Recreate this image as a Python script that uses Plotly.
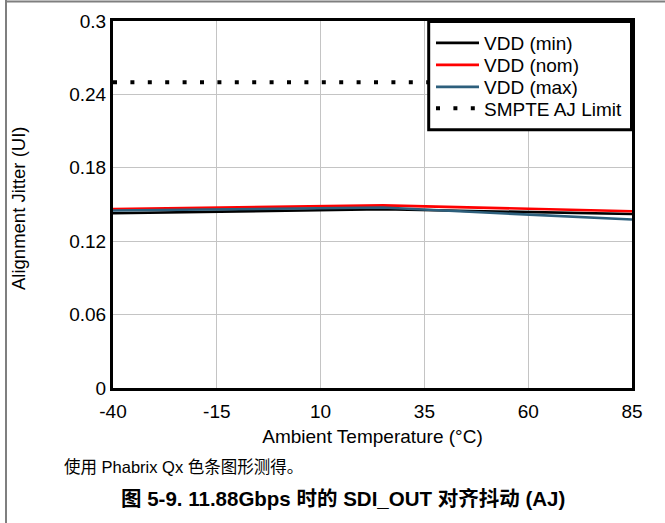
import plotly.graph_objects as go

# ---- data ----
temps = [-40, 25, 85]
vdd_min = [0.1428, 0.1461, 0.1422]
vdd_nom = [0.1462, 0.1493, 0.1445]
vdd_max = [0.1451, 0.1475, 0.1377]
smpte_x = [-40, 85]
smpte_limit = [0.25, 0.25]

x_ticks = [-40, -15, 10, 35, 60, 85]
y_ticks = [0, 0.06, 0.12, 0.18, 0.24, 0.3]
y_ticktext = ["0", "0.06", "0.12", "0.18", "0.24", "0.3"]

series_names = ["VDD (min)", "VDD (nom)", "VDD (max)", "SMPTE AJ Limit"]

x_title = "Ambient Temperature (°C)"
y_title = "Alignment Jitter (UI)"
caption = "使用 Phabrix Qx 色条图形测得。"
title = "图 5-9. 11.88Gbps 时的 SDI_OUT 对齐抖动 (AJ)"

FONT = "Liberation Sans, Arial, Noto Sans CJK SC"
FS = 19
W, H = 665, 523
L, R, T, B = 113, 33, 21, 135
PW, PH = W - L - R, H - T - B


def px_x(px):
    return (px - L) / PW


def px_y(py):
    return (H - B - py) / PH


fig = go.Figure()
fig.add_trace(go.Scatter(x=temps, y=vdd_min, mode="lines", name=series_names[0],
                         legend="legend",
                         line=dict(color="#000000", width=2.6)))
fig.add_trace(go.Scatter(x=temps, y=vdd_nom, mode="lines", name=series_names[1],
                         legend="legend2",
                         line=dict(color="#ff0000", width=2.6)))
fig.add_trace(go.Scatter(x=temps, y=vdd_max, mode="lines", name=series_names[2],
                         legend="legend3",
                         line=dict(color="#2d5f7c", width=2.6)))
fig.add_trace(go.Scatter(x=smpte_x, y=smpte_limit, mode="lines", name=series_names[3],
                         legend="legend4",
                         line=dict(color="#000000", width=4, dash="4px,13.4px")))

# one single-entry legend per row so the row pitch can match the reference
leg_centers = [43, 65, 87, 108.5]


def leg(cy):
    return dict(
        x=px_x(431), y=px_y(cy), xanchor="left", yanchor="middle",
        bgcolor="rgba(0,0,0,0)", borderwidth=0,
        font=dict(family=FONT, size=FS, color="#000000"),
        itemwidth=43, tracegroupgap=0,
    )


fig.update_layout(
    width=W, height=H,
    margin=dict(l=L, r=R, t=T, b=B, pad=0),
    paper_bgcolor="white", plot_bgcolor="white",
    font=dict(family=FONT, size=FS, color="#000000"),
    showlegend=True,
    legend=leg(leg_centers[0]),
    legend2=leg(leg_centers[1]),
    legend3=leg(leg_centers[2]),
    legend4=leg(leg_centers[3]),
    xaxis=dict(
        range=[-40, 85], tickmode="array", tickvals=x_ticks,
        ticktext=[str(v) for v in x_ticks],
        showgrid=True, gridcolor="#c4c4c4", gridwidth=1,
        showline=True, linecolor="#000000", linewidth=3, mirror=True,
        ticks="", zeroline=False, ticklabelstandoff=4,
        tickfont=dict(size=FS),
        title=dict(text=x_title, font=dict(size=FS), standoff=9),
    ),
    yaxis=dict(
        range=[0, 0.3], tickmode="array", tickvals=y_ticks, ticktext=y_ticktext,
        showgrid=True, gridcolor="#c4c4c4", gridwidth=1,
        showline=True, linecolor="#000000", linewidth=3, mirror=True,
        ticks="", zeroline=False,
        tickfont=dict(size=FS),
    ),
    shapes=[
        # legend frame (white fill hides the limit line behind the legend)
        dict(type="rect", xref="paper", yref="paper", layer="above",
             x0=px_x(428.7), x1=px_x(631.5), y0=px_y(129.7), y1=px_y(21.5),
             fillcolor="white", line=dict(color="#000000", width=3)),
        # outer page frame (left and top)
        dict(type="line", xref="paper", yref="paper",
             x0=px_x(6), x1=px_x(6), y0=px_y(0), y1=px_y(H),
             line=dict(color="#7f7f7f", width=2)),
        dict(type="line", xref="paper", yref="paper",
             x0=px_x(5), x1=px_x(W), y0=px_y(1.5), y1=px_y(1.5),
             line=dict(color="#7f7f7f", width=2)),
    ],
    annotations=[
        dict(text=y_title, xref="paper", yref="paper", x=px_x(18), y=px_y(209),
             xanchor="center", yanchor="middle", textangle=-90, showarrow=False,
             font=dict(family=FONT, size=18.5, color="#000000")),
        dict(text=caption, xref="paper", yref="paper", x=px_x(62), y=px_y(467),
             xanchor="left", yanchor="middle", showarrow=False,
             font=dict(family=FONT, size=16.5, color="#000000")),
        dict(text="<b>" + title + "</b>", xref="paper", yref="paper",
             x=px_x(343), y=px_y(499), xanchor="center", yanchor="middle",
             showarrow=False, font=dict(family=FONT, size=20.5, color="#000000")),
    ],
)

fig.write_html("out.html")
